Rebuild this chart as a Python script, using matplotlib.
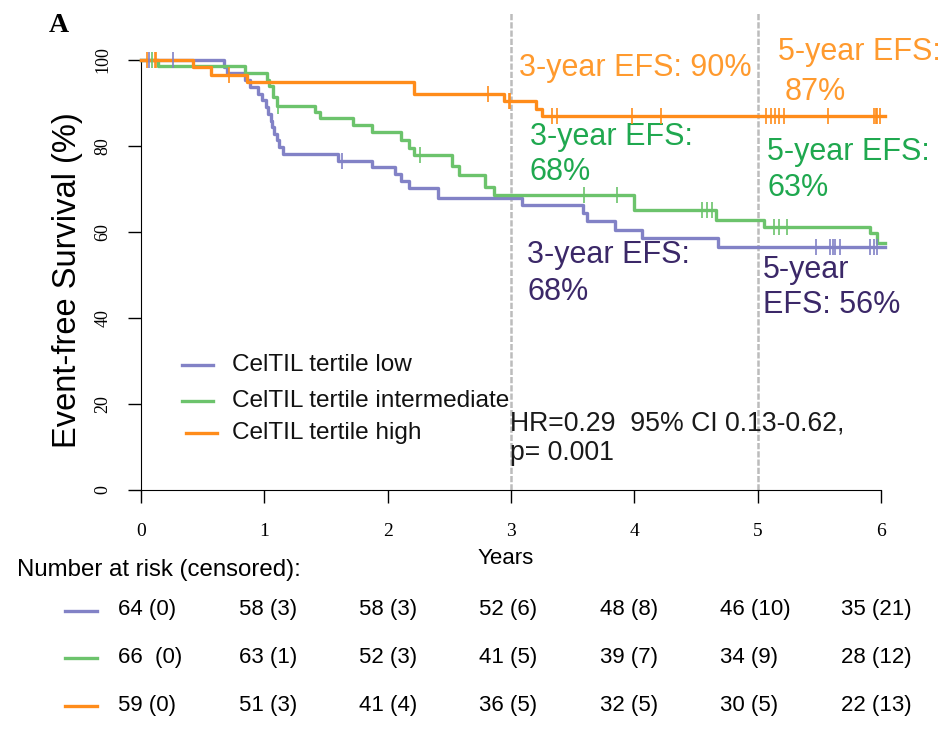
import numpy as np
import matplotlib
matplotlib.use("Agg")
import matplotlib.pyplot as plt

# Kaplan-Meier step data (years, EFS %)
low_t = [0.67, 0.70, 0.84, 0.88, 0.95, 0.98, 1.01, 1.03, 1.05, 1.06, 1.08, 1.10, 1.12, 1.15,
         1.60, 1.87, 2.06, 2.11, 2.17, 2.41, 3.09, 3.58, 3.62, 3.84, 4.06, 4.68]
low_s = [98.4, 96.9, 95.3, 93.8, 92.2, 90.6, 89.1, 87.5, 85.9, 84.4, 82.8, 81.3, 79.7, 78.1,
         76.6, 75.0, 73.4, 71.9, 70.3, 67.9, 66.3, 64.4, 62.5, 60.5, 58.5, 56.5]
low_cens = [0.065, 0.26, 1.63, 5.47, 5.59, 5.61, 5.63, 5.67, 5.91, 5.94, 5.97]

int_t = [0.14, 0.84, 1.02, 1.04, 1.07, 1.10, 1.41, 1.45, 1.72, 1.87, 2.11, 2.17, 2.21,
         2.52, 2.58, 2.79, 2.86, 4.00, 4.66, 5.05, 5.91, 5.97]
int_s = [98.5, 97.0, 95.4, 93.9, 91.5, 89.4, 87.9, 86.4, 84.8, 83.2, 81.5, 79.6, 77.9,
         75.4, 73.3, 70.4, 68.6, 65.1, 62.9, 61.2, 59.7, 57.4]
int_cens = [0.087, 1.11, 2.26, 3.59, 3.86, 4.55, 4.59, 4.63, 5.13, 5.17, 5.24]

high_t = [0.42, 0.57, 0.86, 2.21, 2.94, 3.20, 3.25]
high_s = [98.3, 96.6, 94.9, 92.2, 90.5, 88.7, 86.9]
high_cens = [0.046, 0.11, 0.12, 0.71, 2.81, 2.98, 2.99, 3.33, 3.37, 3.98, 4.22,
             5.07, 5.11, 5.14, 5.17, 5.21, 5.57, 5.94, 5.96, 5.97, 5.99]

t_end = 6.03

labels = ["CelTIL tertile low", "CelTIL tertile intermediate", "CelTIL tertile high"]

risk_low = ["64 (0)", "58 (3)", "58 (3)", "52 (6)", "48 (8)", "46 (10)", "35 (21)"]
risk_int = ["66  (0)", "63 (1)", "52 (3)", "41 (5)", "39 (7)", "34 (9)", "28 (12)"]
risk_high = ["59 (0)", "51 (3)", "41 (4)", "36 (5)", "32 (5)", "30 (5)", "22 (13)"]

col_low, col_int, col_high = "#8282c6", "#6cc36c", "#ff8c1a"
txt_low, txt_int, txt_high = "#3b2868", "#1fa84f", "#ff9a2e"

W, H = 948, 731
fig = plt.figure(figsize=(W / 100, H / 100), dpi=100)
ax = fig.add_axes([111.4 / W, (H - 507.2) / H, 799.2 / W, 494.5 / H])
ax.set_xlim(-0.24, 6.24)
ax.set_ylim(-4, 111)

sans = "Liberation Sans"
serif = "Liberation Serif"


def km(t, s):
    tt = np.concatenate([[0], t, [t_end]])
    ss = np.concatenate([[100], s, [s[-1]]])
    return tt, ss


def surv_at(t, s, x):
    tt, ss = km(t, s)
    idx = np.searchsorted(tt, x, side="right") - 1
    return ss[idx]


ax.vlines([3, 5], 0, 111, colors="#bcbcbc", linestyles=(0, (2.5, 0.8)), lw=1.8, zorder=1)

for t, s, cens, c in [(low_t, low_s, low_cens, col_low),
                      (int_t, int_s, int_cens, col_int),
                      (high_t, high_s, high_cens, col_high)]:
    tt, ss = km(t, s)
    ax.step(tt, ss, where="post", color=c, lw=2.4, zorder=3)
    ax.plot(cens, surv_at(t, s, np.array(cens)), ls="none", marker="|",
            ms=11, mew=1.2, color=c, zorder=4)

ax.spines["top"].set_visible(False)
ax.spines["right"].set_visible(False)
ax.spines["left"].set_position(("data", 0))
ax.spines["bottom"].set_position(("data", 0))
ax.spines["left"].set_bounds(0, 100)
ax.spines["bottom"].set_bounds(0, 6)
ax.set_xticks(range(0, 7))
ax.set_yticks(range(0, 101, 20))
ax.tick_params(length=9.5, width=1, direction="out")
ax.tick_params(axis="x", pad=14)
ax.tick_params(axis="y", pad=12)
for lab in ax.get_xticklabels():
    lab.set_fontfamily(serif)
    lab.set_fontsize(14)
for lab in ax.get_yticklabels():
    lab.set_fontfamily(serif)
    lab.set_fontsize(13)
    lab.set_rotation(90)
    lab.set_va("center")

# annotations
ann = dict(fontsize=22, family=sans, ha="left", va="center")
ax.text(3.065, 98.1, "3-year EFS: 90%", color=txt_high, **ann)
ax.text(5.165, 101.9, "5-year EFS:", color=txt_high, **ann)
ax.text(5.22, 92.6, "87%", color=txt_high, **ann)
ax.text(3.154, 82.1, "3-year EFS:", color=txt_int, **ann)
ax.text(3.154, 74.0, "68%", color=txt_int, **ann)
ax.text(5.076, 78.6, "5-year EFS:", color=txt_int, **ann)
ax.text(5.076, 70.2, "63%", color=txt_int, **ann)
ax.text(3.13, 54.7, "3-year EFS:", color=txt_low, **ann)
ax.text(3.13, 46.0, "68%", color=txt_low, **ann)
ax.text(5.04, 51.2, "5-year", color=txt_low, **ann)
ax.text(5.04, 43.0, "EFS: 56%", color=txt_low, **ann)

ax.text(2.99, 15.5, "HR=0.29  95% CI 0.13-0.62,", fontsize=19.2, family=sans,
        ha="left", va="center", color="#1a1a1a")
ax.text(2.99, 8.7, "p= 0.001", fontsize=19.2, family=sans,
        ha="left", va="center", color="#1a1a1a")

# legend
leg_y = [29.1, 20.7, 13.3]
leg_x = [(0.33, 0.58), (0.33, 0.58), (0.365, 0.62)]
for (x0, x1), y, c, lab in zip(leg_x, leg_y, [col_low, col_int, col_high], labels):
    ax.plot([x0, x1], [y, y], color=c, lw=2.4)
    ax.text(0.74, y, lab, fontsize=17.6, family=sans, ha="left", va="center", color="#111111")


def ftext(x, y, s, **kw):
    fig.text(x / W, 1 - y / H, s, **kw)


ftext(59, 25, "A", fontsize=20, family=serif, weight="bold", ha="center", va="center")
ftext(68, 280, "Event-free Survival (%)", fontsize=23.5, family=sans, rotation=90,
      ha="center", va="center")
ftext(506, 559, "Years", fontsize=16, family=sans, ha="center", va="center")
ftext(17, 570, "Number at risk (censored):", fontsize=17.3, family=sans, ha="left", va="center")

col_x = [118, 239, 359, 479, 600, 720, 841]
row_y = [610, 657, 705]
for rows, c, y in zip([risk_low, risk_int, risk_high], [col_low, col_int, col_high], row_y):
    fig.add_artist(plt.Line2D([65 / W, 97 / W], [1 - (y + 1) / H, 1 - (y + 1) / H],
                              color=c, lw=2.4))
    for x, s in zip(col_x, rows):
        ftext(x, y, s, fontsize=16, family=sans, ha="left", va="center")

fig.savefig("out.png", dpi=100)
